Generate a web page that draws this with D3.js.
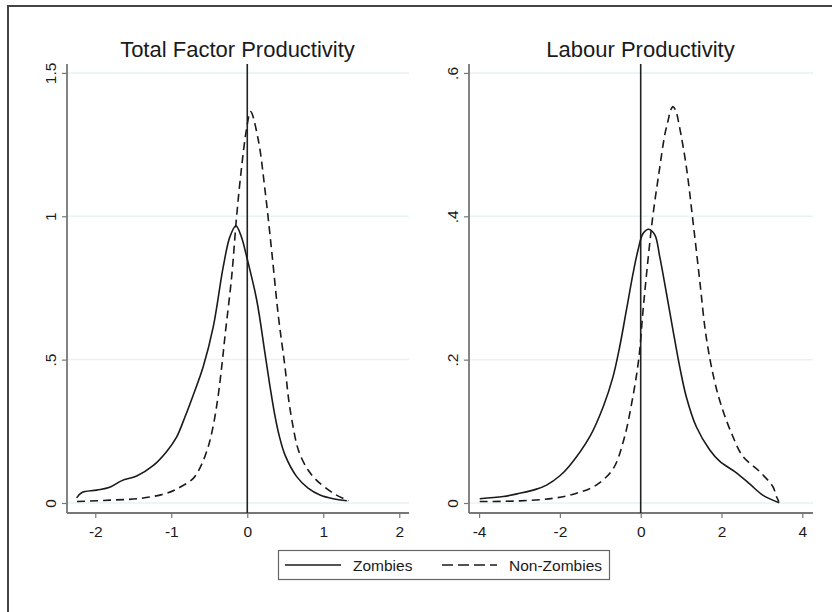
<!DOCTYPE html>
<html>
<head>
<meta charset="utf-8">
<script src="https://cdn.jsdelivr.net/npm/d3@7"></script>
<style>
  body { margin: 0; background: #fff; }
  svg text { font-family: Arial, "Liberation Sans", sans-serif; fill: #1a1a1a; }
</style>
</head>
<body>
<div id="canvas"></div>
<script>
// kernel density estimates
var seriesNames = ["Zombies", "Non-Zombies"];
var panelTitles = ["Total Factor Productivity", "Labour Productivity"];

var tfpZombiesX = [-2.245, -2.18, -1.98, -1.81, -1.65, -1.455, -1.24, -1.06, -0.93, -0.82, -0.72, -0.58, -0.447, -0.316, -0.228, -0.149, -0.08, -0.008, 0.124, 0.233, 0.30, 0.36, 0.42, 0.50, 0.65, 0.80, 0.957, 1.13, 1.31];
var tfpZombiesY = [0.018, 0.036, 0.045, 0.055, 0.078, 0.094, 0.13, 0.18, 0.23, 0.30, 0.37, 0.475, 0.615, 0.824, 0.929, 0.967, 0.93, 0.859, 0.708, 0.522, 0.405, 0.31, 0.235, 0.165, 0.092, 0.052, 0.028, 0.015, 0.008];

var tfpNonZombiesX = [-2.24, -1.8, -1.41, -1.06, -0.885, -0.71, -0.60, -0.51, -0.44, -0.38, -0.33, -0.29, -0.205, -0.14, -0.074, -0.008, 0.044, 0.145, 0.233, 0.32, 0.41, 0.496, 0.55, 0.60, 0.65, 0.70, 0.80, 0.91, 1.13, 1.33];
var tfpNonZombiesY = [0.005, 0.010, 0.016, 0.034, 0.055, 0.086, 0.135, 0.20, 0.28, 0.38, 0.49, 0.59, 0.79, 1.0, 1.173, 1.307, 1.365, 1.266, 1.092, 0.882, 0.65, 0.475, 0.35, 0.27, 0.205, 0.165, 0.115, 0.08, 0.034, 0.008];

var lpZombiesX = [-3.985, -3.4, -3.0, -2.6, -2.33, -2.0, -1.76, -1.26, -0.93, -0.686, -0.52, -0.354, -0.19, -0.066, 0.058, 0.20, 0.35, 0.47, 0.636, 0.80, 0.966, 1.13, 1.38, 1.71, 1.96, 2.32, 2.69, 3.02, 3.43];
var lpZombiesY = [0.006, 0.009, 0.0135, 0.019, 0.025, 0.038, 0.052, 0.0925, 0.134, 0.176, 0.218, 0.269, 0.320, 0.353, 0.376, 0.382, 0.374, 0.344, 0.293, 0.241, 0.190, 0.148, 0.106, 0.074, 0.058, 0.044, 0.027, 0.011, 0.0004];

var lpNonZombiesX = [-3.985, -2.99, -2.17, -1.59, -1.10, -0.68, -0.42, -0.22, -0.05, 0.06, 0.18, 0.30, 0.45, 0.60, 0.68, 0.74, 0.80, 0.87, 0.96, 1.13, 1.29, 1.46, 1.62, 1.82, 2.0, 2.25, 2.53, 2.94, 3.27, 3.36, 3.42];
var lpNonZombiesY = [0.002, 0.003, 0.0065, 0.0135, 0.025, 0.048, 0.088, 0.140, 0.200, 0.27, 0.339, 0.400, 0.460, 0.515, 0.534, 0.548, 0.553, 0.547, 0.525, 0.469, 0.395, 0.311, 0.232, 0.172, 0.135, 0.097, 0.065, 0.044, 0.023, 0.009, 0.002];

var tfpXTicks = [-2, -1, 0, 1, 2];
var tfpYTicks = [0, 0.5, 1, 1.5];
var lpXTicks = [-4, -2, 0, 2, 4];
var lpYTicks = [0, 0.2, 0.4, 0.6];

var width = 832, height = 612;

var svg = d3.select("#canvas")
  .append("svg")
  .attr("width", width)
  .attr("height", height);

// cropped outer frame (top and left edges only)
svg.append("path")
  .attr("d", "M8,612 L8,6 L832,6")
  .attr("fill", "none")
  .attr("stroke", "#444")
  .attr("stroke-width", 2);

var stataFmt = d => String(d).replace(/^0\./, ".").replace(/^-0\./, "-.");

var zip = (xs, ys) => xs.map((x, i) => [x, ys[i]]);

var panels = [
  {
    title: panelTitles[0],
    x: d3.scaleLinear().domain([-2.372, 2.128]).range([67, 409]),
    y: d3.scaleLinear().domain([-0.0349, 1.531]).range([513, 64]),
    xTicks: tfpXTicks, yTicks: tfpYTicks,
    series: [zip(tfpZombiesX, tfpZombiesY), zip(tfpNonZombiesX, tfpNonZombiesY)]
  },
  {
    title: panelTitles[1],
    x: d3.scaleLinear().domain([-4.25, 4.265]).range([469, 813]),
    y: d3.scaleLinear().domain([-0.01395, 0.6125]).range([513, 64]),
    xTicks: lpXTicks, yTicks: lpYTicks,
    series: [zip(lpZombiesX, lpZombiesY), zip(lpNonZombiesX, lpNonZombiesY)]
  }
];

var dashes = [null, "8,5"];

panels.forEach(function (p) {
  var g = svg.append("g");
  var x0 = p.x.range()[0], x1 = p.x.range()[1];
  var yTop = p.y.range()[1], yBot = p.y.range()[0];

  // grid
  g.selectAll(".grid")
    .data(p.yTicks)
    .enter()
    .append("line")
    .attr("x1", x0)
    .attr("x2", x1)
    .attr("y1", d => p.y(d))
    .attr("y2", d => p.y(d))
    .attr("stroke", "#eaf2f3")
    .attr("stroke-width", 1.5);

  // y axis
  var yAxis = g.append("g")
    .attr("transform", `translate(${x0},0)`)
    .call(d3.axisLeft(p.y).tickValues(p.yTicks).tickSize(5).tickFormat(stataFmt));
  yAxis.select(".domain")
    .attr("d", `M0,${yTop}V${yBot}`)
    .attr("stroke", "#777")
    .attr("stroke-width", 1.8);
  yAxis.selectAll(".tick line").attr("stroke", "#777").attr("stroke-width", 1.2);
  yAxis.selectAll(".tick text")
    .attr("x", null)
    .attr("dy", null)
    .attr("transform", "translate(-11,0) rotate(-90)")
    .attr("text-anchor", "middle")
    .style("font-size", "15.5px")
    .style("font-family", "Arial, 'Liberation Sans', sans-serif")
    .attr("fill", "#1a1a1a");

  // x axis
  var xAxis = g.append("g")
    .attr("transform", `translate(0,${yBot})`)
    .call(d3.axisBottom(p.x).tickValues(p.xTicks).tickSize(5).tickFormat(stataFmt));
  xAxis.select(".domain")
    .attr("d", `M${x0},0H${x1}`)
    .attr("stroke", "#777")
    .attr("stroke-width", 1.8);
  xAxis.selectAll(".tick line").attr("stroke", "#777").attr("stroke-width", 1.2);
  xAxis.selectAll(".tick text")
    .attr("y", 24)
    .attr("dy", null)
    .style("font-size", "15.5px")
    .style("font-family", "Arial, 'Liberation Sans', sans-serif")
    .attr("fill", "#1a1a1a");

  // vertical reference line at zero
  g.append("line")
    .attr("x1", p.x(0))
    .attr("x2", p.x(0))
    .attr("y1", yTop)
    .attr("y2", yBot)
    .attr("stroke", "#222")
    .attr("stroke-width", 1.6);

  var line = d3.line()
    .x(d => p.x(d[0]))
    .y(d => p.y(d[1]))
    .curve(d3.curveCatmullRom.alpha(0.5));

  p.series.forEach(function (s, i) {
    g.append("path")
      .datum(s)
      .attr("d", line)
      .attr("fill", "none")
      .attr("stroke", "#1a1a1a")
      .attr("stroke-width", 1.6)
      .attr("stroke-dasharray", dashes[i]);
  });

  g.append("text")
    .attr("x", (x0 + x1) / 2 - 0.5)
    .attr("y", 57)
    .attr("text-anchor", "middle")
    .style("font-size", "22px")
    .text(p.title);
});

// legend
var legend = svg.append("g");
legend.append("rect")
  .attr("x", 278.5)
  .attr("y", 550.5)
  .attr("width", 331)
  .attr("height", 29)
  .attr("fill", "#fff")
  .attr("stroke", "#666")
  .attr("stroke-width", 1.2);

var legendItems = [
  {x1: 285, x2: 341, tx: 353},
  {x1: 442, x2: 497, tx: 509}
];

legendItems.forEach(function (it, i) {
  legend.append("line")
    .attr("x1", it.x1)
    .attr("x2", it.x2)
    .attr("y1", 565)
    .attr("y2", 565)
    .attr("stroke", "#1a1a1a")
    .attr("stroke-width", 1.6)
    .attr("stroke-dasharray", i === 1 ? "11,5" : null);
  legend.append("text")
    .attr("x", it.tx)
    .attr("y", 570.5)
    .style("font-size", "15.5px")
    .text(seriesNames[i]);
});
</script>
</body>
</html>
